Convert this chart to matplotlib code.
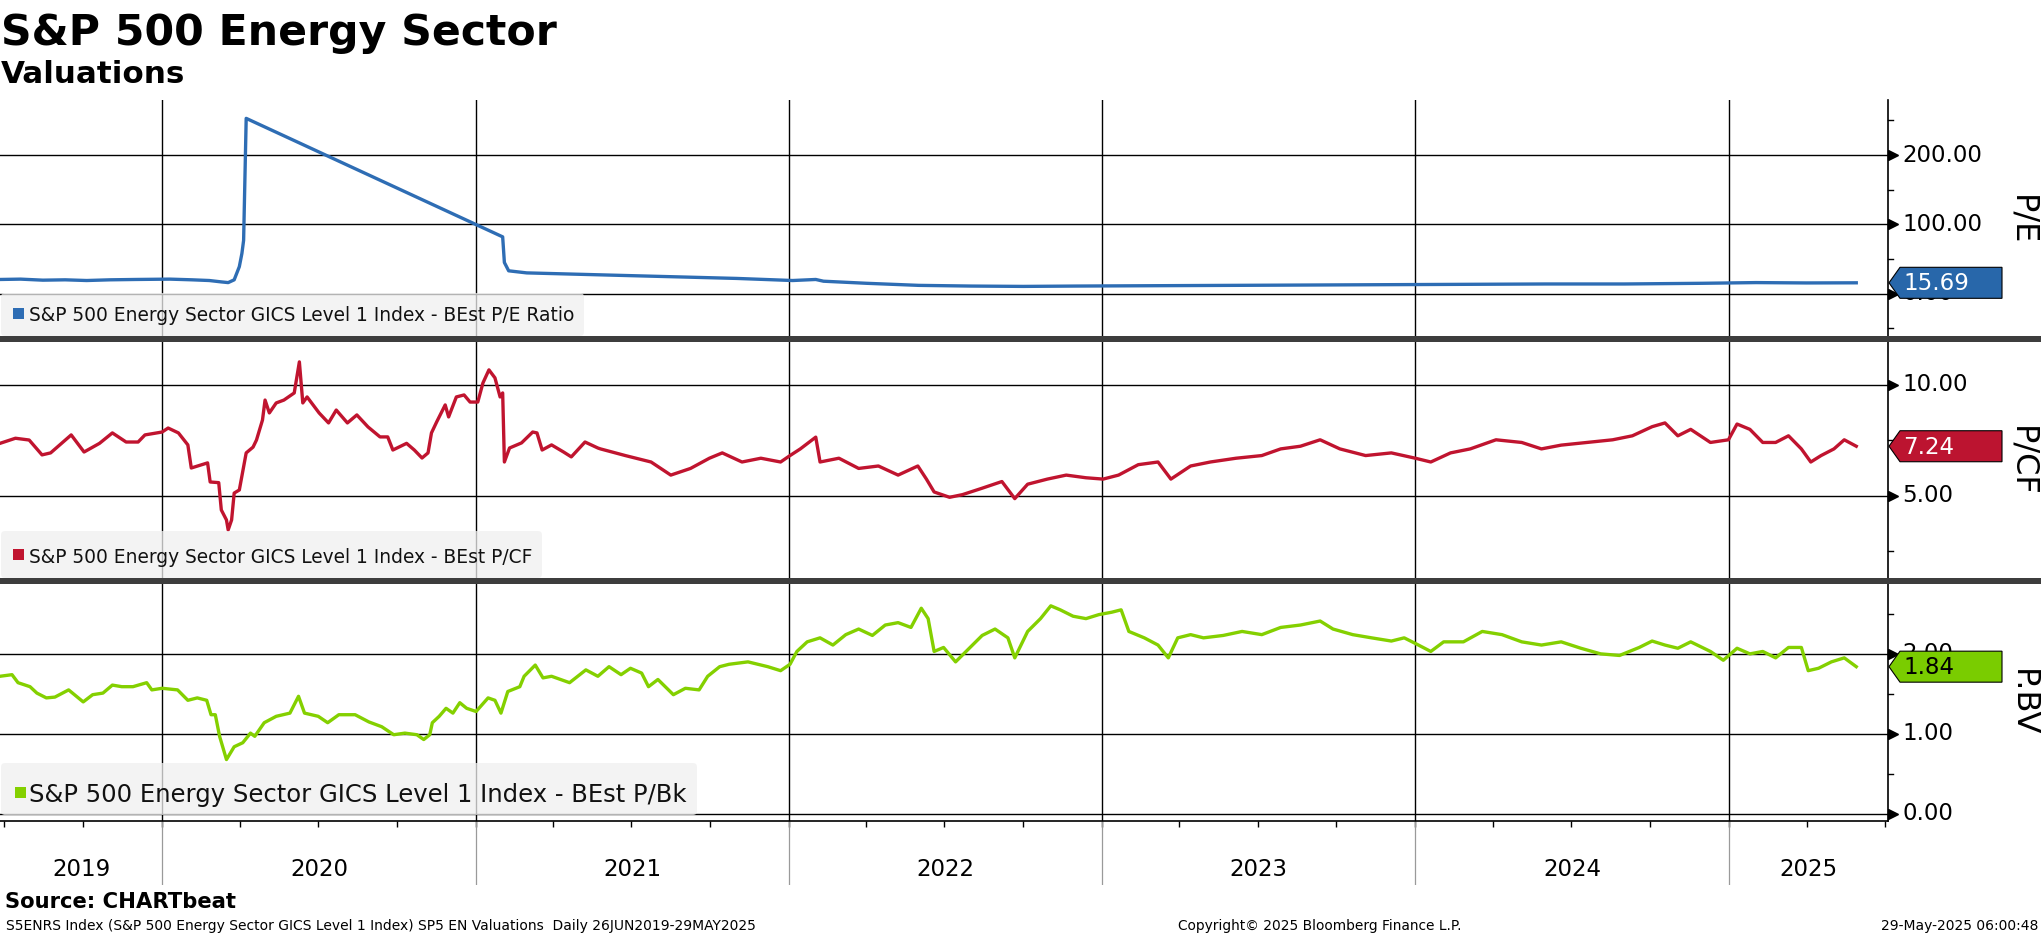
import matplotlib
matplotlib.use('Agg')
import matplotlib.pyplot as plt
import matplotlib.dates as mdates
import matplotlib.transforms as mtransforms
from matplotlib.patches import Polygon, Rectangle, FancyBboxPatch
from matplotlib.lines import Line2D
import pandas as pd

W, H = 2041, 936
plt.rcParams['font.family'] = ['DejaVu Sans']
NARROW = ['Liberation Sans Narrow', 'DejaVu Sans']

# ---- values ----
pe_dates = ['2019-06-26', '2019-07-20', '2019-08-15', '2019-09-10', '2019-10-05', '2019-11-01',
            '2019-12-01', '2020-01-10', '2020-02-05', '2020-02-25', '2020-03-10', '2020-03-18',
            '2020-03-25', '2020-03-31', '2020-04-03', '2020-04-05', '2020-04-08', '2021-02-01',
            '2021-02-03', '2021-02-08', '2021-03-01', '2021-05-01', '2021-07-01', '2021-09-01',
            '2021-11-01', '2022-01-05', '2022-02-01', '2022-02-10', '2022-04-01', '2022-06-01',
            '2022-08-01', '2022-10-01', '2022-12-01', '2023-03-01', '2023-06-01', '2023-09-01',
            '2023-12-01', '2024-03-01', '2024-06-01', '2024-09-01', '2024-12-01', '2025-02-01',
            '2025-04-01', '2025-05-29']
pe_values = [20.5, 21, 19.5, 20, 19, 20, 20.5, 21, 20, 19, 17, 16,
             20, 39, 58, 77, 253, 82, 45, 33, 30, 28, 26, 24,
             22, 19, 20.5, 18, 15, 12, 11, 10.5, 11, 11.5, 12, 12.5,
             13, 13.5, 14, 14, 15, 16, 15.5, 15.69]

pcf_dates = ['2019-06-26', '2019-07-14', '2019-07-30', '2019-08-14', '2019-08-24', '2019-09-17',
             '2019-10-02', '2019-10-20', '2019-11-04', '2019-11-20', '2019-12-04', '2019-12-12',
             '2020-01-01', '2020-01-08', '2020-01-20', '2020-01-31', '2020-02-04', '2020-02-23',
             '2020-02-26', '2020-03-07', '2020-03-10', '2020-03-16', '2020-03-18', '2020-03-22',
             '2020-03-25', '2020-03-31', '2020-04-08', '2020-04-16', '2020-04-20', '2020-04-27',
             '2020-04-30', '2020-05-05', '2020-05-13', '2020-05-22', '2020-06-03', '2020-06-09',
             '2020-06-13', '2020-06-18', '2020-07-02', '2020-07-13', '2020-07-22', '2020-08-04',
             '2020-08-15', '2020-08-28', '2020-09-11', '2020-09-20', '2020-09-26', '2020-10-12',
             '2020-10-21', '2020-10-30', '2020-11-06', '2020-11-10', '2020-11-16', '2020-11-26',
             '2020-11-30', '2020-12-09', '2020-12-18', '2020-12-25', '2021-01-03', '2021-01-09',
             '2021-01-16', '2021-01-23', '2021-01-29', '2021-02-01', '2021-02-03', '2021-02-09',
             '2021-02-23', '2021-03-08', '2021-03-13', '2021-03-19', '2021-03-30', '2021-04-13',
             '2021-04-22', '2021-05-08', '2021-05-23', '2021-05-26', '2021-06-24', '2021-07-24',
             '2021-08-16', '2021-09-08', '2021-09-30', '2021-10-15', '2021-11-07', '2021-11-29',
             '2021-12-22', '2022-01-02', '2022-01-14', '2022-02-01', '2022-02-06', '2022-02-28',
             '2022-03-23', '2022-04-15', '2022-05-08', '2022-05-31', '2022-06-10', '2022-06-19',
             '2022-07-07', '2022-07-22', '2022-08-14', '2022-09-06', '2022-09-21', '2022-10-06',
             '2022-10-29', '2022-11-20', '2022-12-13', '2023-01-02', '2023-01-20', '2023-02-12',
             '2023-03-07', '2023-03-22', '2023-04-14', '2023-05-07', '2023-06-06', '2023-07-06',
             '2023-07-28', '2023-08-20', '2023-09-12', '2023-10-05', '2023-11-04', '2023-12-04',
             '2024-01-01', '2024-01-19', '2024-02-11', '2024-03-05', '2024-04-04', '2024-05-04',
             '2024-05-27', '2024-06-19', '2024-07-19', '2024-08-18', '2024-09-10', '2024-10-03',
             '2024-10-18', '2024-11-02', '2024-11-17', '2024-12-10', '2024-12-31', '2025-01-10',
             '2025-01-25', '2025-02-09', '2025-02-24', '2025-03-11', '2025-03-26', '2025-04-06',
             '2025-04-18', '2025-05-03', '2025-05-15', '2025-05-29']
pcf_values = [7.37, 7.60, 7.52, 6.85, 6.94, 7.75,
              6.98, 7.37, 7.84, 7.43, 7.43, 7.75,
              7.88, 8.06, 7.84, 7.30, 6.26, 6.49,
              5.63, 5.60, 4.37, 3.92, 3.47, 3.92,
              5.13, 5.27, 6.94, 7.20, 7.52, 8.42,
              9.32, 8.74, 9.19, 9.32, 9.64, 11.04,
              9.19, 9.46, 8.74, 8.29, 8.87, 8.29,
              8.65, 8.11, 7.66, 7.66, 7.07, 7.37,
              7.07, 6.71, 6.94, 7.84, 8.33, 9.10,
              8.56, 9.46, 9.55, 9.23, 9.23, 10.09,
              10.68, 10.32, 9.46, 9.64, 6.53, 7.16,
              7.39, 7.88, 7.84, 7.07, 7.30, 6.98,
              6.76, 7.43, 7.16, 7.12, 6.82, 6.53,
              5.94, 6.24, 6.70, 6.94, 6.53, 6.70,
              6.53, 6.82, 7.12, 7.65, 6.53, 6.70,
              6.24, 6.35, 5.94, 6.35, 5.76, 5.18,
              4.94, 5.06, 5.35, 5.65, 4.88, 5.53,
              5.76, 5.94, 5.82, 5.76, 5.94, 6.41,
              6.53, 5.76, 6.35, 6.53, 6.70, 6.82,
              7.12, 7.24, 7.53, 7.12, 6.82, 6.94,
              6.70, 6.53, 6.94, 7.12, 7.53, 7.41,
              7.12, 7.29, 7.41, 7.53, 7.71, 8.12,
              8.29, 7.71, 8.00, 7.41, 7.53, 8.24,
              8.00, 7.41, 7.41, 7.71, 7.12, 6.53,
              6.82, 7.12, 7.53, 7.24]

pbv_dates = ['2019-06-26', '2019-07-10', '2019-07-17', '2019-07-31', '2019-08-08', '2019-08-19',
             '2019-08-29', '2019-09-14', '2019-10-01', '2019-10-12', '2019-10-24', '2019-11-04',
             '2019-11-15', '2019-11-28', '2019-12-14', '2019-12-20', '2020-01-01', '2020-01-19',
             '2020-01-31', '2020-02-11', '2020-02-22', '2020-02-27', '2020-03-03', '2020-03-08',
             '2020-03-16', '2020-03-25', '2020-04-04', '2020-04-13', '2020-04-18', '2020-04-29',
             '2020-05-13', '2020-05-29', '2020-06-08', '2020-06-15', '2020-07-01', '2020-07-12',
             '2020-07-25', '2020-08-13', '2020-08-29', '2020-09-13', '2020-09-27', '2020-10-10',
             '2020-10-24', '2020-11-01', '2020-11-08', '2020-11-11', '2020-11-19', '2020-11-27',
             '2020-12-05', '2020-12-13', '2020-12-21', '2021-01-01', '2021-01-15', '2021-01-23',
             '2021-01-30', '2021-02-07', '2021-02-21', '2021-02-26', '2021-03-11', '2021-03-20',
             '2021-03-30', '2021-04-20', '2021-05-09', '2021-05-23', '2021-06-05', '2021-06-19',
             '2021-06-30', '2021-07-13', '2021-07-21', '2021-08-01', '2021-08-19', '2021-09-02',
             '2021-09-18', '2021-09-28', '2021-10-12', '2021-10-23', '2021-11-14', '2021-12-07',
             '2021-12-22', '2022-01-02', '2022-01-10', '2022-01-22', '2022-02-06', '2022-02-21',
             '2022-03-08', '2022-03-23', '2022-04-08', '2022-04-23', '2022-05-08', '2022-05-23',
             '2022-06-04', '2022-06-12', '2022-06-19', '2022-06-30', '2022-07-14', '2022-07-30',
             '2022-08-14', '2022-08-29', '2022-09-13', '2022-09-21', '2022-10-06', '2022-10-21',
             '2022-11-02', '2022-11-13', '2022-11-28', '2022-12-13', '2022-12-28', '2023-01-12',
             '2023-01-23', '2023-02-01', '2023-02-19', '2023-03-07', '2023-03-19', '2023-03-30',
             '2023-04-14', '2023-04-29', '2023-05-22', '2023-06-13', '2023-07-06', '2023-07-28',
             '2023-08-20', '2023-09-12', '2023-09-27', '2023-10-20', '2023-11-11', '2023-12-04',
             '2023-12-19', '2024-01-01', '2024-01-19', '2024-02-03', '2024-02-26', '2024-03-19',
             '2024-04-11', '2024-05-04', '2024-05-27', '2024-06-19', '2024-07-12', '2024-08-04',
             '2024-08-26', '2024-09-18', '2024-10-03', '2024-10-18', '2024-11-02', '2024-11-17',
             '2024-12-10', '2024-12-25', '2025-01-10', '2025-01-25', '2025-02-09', '2025-02-24',
             '2025-03-11', '2025-03-26', '2025-04-03', '2025-04-15', '2025-04-30', '2025-05-15',
             '2025-05-29']
pbv_values = [1.72, 1.74, 1.64, 1.59, 1.51, 1.45,
              1.46, 1.55, 1.40, 1.49, 1.51, 1.61,
              1.59, 1.59, 1.64, 1.55, 1.57, 1.55,
              1.42, 1.45, 1.42, 1.24, 1.24, 0.97,
              0.68, 0.84, 0.89, 1.01, 0.97, 1.14,
              1.22, 1.26, 1.47, 1.26, 1.22, 1.14,
              1.24, 1.24, 1.15, 1.09, 0.99, 1.01,
              0.99, 0.93, 0.99, 1.14, 1.22, 1.32,
              1.26, 1.39, 1.32, 1.28, 1.45, 1.42,
              1.26, 1.53, 1.59, 1.72, 1.86, 1.70,
              1.72, 1.64, 1.80, 1.72, 1.84, 1.74,
              1.82, 1.76, 1.59, 1.68, 1.49, 1.57,
              1.55, 1.72, 1.84, 1.87, 1.90, 1.84,
              1.79, 1.87, 2.03, 2.15, 2.20, 2.11,
              2.24, 2.31, 2.23, 2.36, 2.39, 2.33,
              2.57, 2.44, 2.03, 2.08, 1.90, 2.07,
              2.23, 2.31, 2.20, 1.95, 2.28, 2.44,
              2.60, 2.55, 2.47, 2.44, 2.49, 2.52,
              2.55, 2.28, 2.20, 2.11, 1.95, 2.20,
              2.24, 2.20, 2.23, 2.28, 2.24, 2.33,
              2.36, 2.41, 2.31, 2.24, 2.20, 2.16,
              2.20, 2.13, 2.03, 2.15, 2.15, 2.28,
              2.24, 2.15, 2.11, 2.15, 2.07, 2.00,
              1.98, 2.08, 2.16, 2.11, 2.07, 2.15,
              2.03, 1.92, 2.07, 2.00, 2.03, 1.95,
              2.08, 2.08, 1.79, 1.82, 1.90, 1.95,
              1.84]

series_names = ['S&P 500 Energy Sector GICS Level 1 Index - BEst P/E Ratio',
                'S&P 500 Energy Sector GICS Level 1 Index - BEst P/CF',
                'S&P 500 Energy Sector GICS Level 1 Index - BEst P/Bk']
axis_names = ['P/E', 'P/CF', 'P.BV']
last_values = [15.69, 7.24, 1.84]
year_labels = [2019, 2020, 2021, 2022, 2023, 2024, 2025]

x_start = pd.Timestamp('2019-06-26')
x_end = pd.Timestamp('2025-07-05')

fig = plt.figure(figsize=(W / 100, H / 100), dpi=100)
ident = mtransforms.IdentityTransform()
renderer = fig.canvas.get_renderer()


def rect(x0, y0, x1, y1):
    # pixel box measured from the top-left corner -> figure fraction
    return [x0 / W, 1 - y1 / H, (x1 - x0) / W, (y1 - y0) / H]


def fit(t, width):
    w = t.get_window_extent(renderer).width
    t.set_fontsize(t.get_fontsize() * width / w)


RIGHT = 1888
panels = [
    dict(dates=pe_dates, values=pe_values, color='#2e6db4', tag='#2867aa', tagtext='white',
         top=100, bottom=339, ylim=(-65.4, 279.5), major=[0, 100, 200], minor=[-50, 50, 150, 250],
         legbox=(293, 336, 587), legbase=321, legw=547, sq=(13, 308), name_y=220),
    dict(dates=pcf_dates, values=pcf_values, color='#c0142f', tag='#bc1430', tagtext='white',
         top=339, bottom=581, ylim=(1.17, 12.07), major=[5, 10], minor=[2.5, 7.5],
         legbox=(531, 578, 545), legbase=563, legw=505, sq=(13, 549), name_y=461),
    dict(dates=pbv_dates, values=pbv_values, color='#84d000', tag='#7acc00', tagtext='black',
         top=581, bottom=821, ylim=(-0.0875, 2.91), major=[0, 1, 2], minor=[0.5, 1.5, 2.5],
         legbox=(763, 815, 700), legbase=802, legw=656, sq=(15, 787), name_y=703),
]
year_starts = [pd.Timestamp(f'{y}-01-01') for y in year_labels[1:]]

axes = []
for i, p in enumerate(panels):
    ax = fig.add_axes(rect(0, p['top'], RIGHT, p['bottom']))
    ax.set_xlim(x_start, x_end)
    ax.set_ylim(*p['ylim'])
    for s in ax.spines.values():
        s.set_visible(False)
    ax.set_yticks([])
    for v in p['major']:
        ax.axhline(v, color='black', lw=1.0, zorder=1)
    for d in year_starts:
        ax.axvline(d, color='black', lw=1.0, zorder=1)
    ax.plot(pd.to_datetime(p['dates']), p['values'], color=p['color'], lw=2.4, zorder=3)

    if i < 2:
        ax.set_xticks([])
    else:
        ax.xaxis.set_major_locator(mdates.MonthLocator(bymonth=[1, 4, 7, 10]))
        ax.tick_params(axis='x', direction='out', length=4, width=1, color='black', labelbottom=False)

    # legend box
    y0, y1, x1 = p['legbox']
    fig.add_artist(FancyBboxPatch((1, H - y1), x1 - 4, y1 - y0, boxstyle='round,pad=0,rounding_size=4',
                                  transform=ident, facecolor='#f0f0f0', edgecolor='none', alpha=0.75, zorder=4))
    sx, sy = p['sq']
    fig.add_artist(Rectangle((sx, H - sy - 11), 11, 11, transform=ident, facecolor=p['color'],
                             edgecolor='none', zorder=5))
    t = fig.text(29, H - p['legbase'], series_names[i], transform=ident, fontsize=15, family=NARROW,
                 va='baseline', ha='left', color='#111111', zorder=5)
    fit(t, p['legw'])

    # right axis ticks, labels and last-value tag
    yaxt = ax.get_yaxis_transform()
    for v in p['major']:
        yd = yaxt.transform((1, v))[1]
        fig.add_artist(Line2D([RIGHT + 4.5], [yd], marker='>', markersize=7, color='black',
                              linestyle='none', transform=ident, zorder=6))
        fig.text(1902, yd, f'{v:.2f}', transform=ident, fontsize=16.5, va='center', ha='left', zorder=6)
    for v in p['minor']:
        yd = yaxt.transform((1, v))[1]
        fig.add_artist(Line2D([RIGHT, RIGHT + 5], [yd, yd], color='black', lw=1, transform=ident, zorder=6))

    yd = yaxt.transform((1, last_values[i]))[1]
    verts = [(RIGHT + 1, yd), (1900, yd + 15.5), (2002, yd + 15.5), (2002, yd - 15.5), (1900, yd - 15.5)]
    fig.add_artist(Polygon(verts, closed=True, transform=ident, facecolor=p['tag'],
                           edgecolor='black', lw=0.8, zorder=7))
    fig.text(1903, yd - 1, f'{last_values[i]:.2f}', transform=ident, fontsize=16.5, va='center',
             ha='left', color=p['tagtext'], zorder=8)
    fig.text(2022, H - p['name_y'], axis_names[i], transform=ident, fontsize=23, rotation=270,
             va='center', ha='center', zorder=6)
    axes.append(ax)

# right spine, bottom line and panel separators
fig.add_artist(Line2D([RIGHT, RIGHT], [H - 100, H - 821], color='black', lw=1.2, transform=ident, zorder=6))
fig.add_artist(Line2D([0, RIGHT], [H - 821, H - 821], color='black', lw=1.2, transform=ident, zorder=6))
for ysep in (339, 581):
    fig.add_artist(Rectangle((0, H - ysep - 3), W, 6, transform=ident, facecolor='#3d3d3d',
                             edgecolor='none', zorder=9))

# year label strip
axy = fig.add_axes(rect(0, 821, RIGHT, 885))
axy.set_xlim(x_start, x_end)
axy.set_ylim(0, 1)
axy.axis('off')
for d in year_starts:
    axy.axvline(d, color='#9a9a9a', lw=0.9)
for y in year_labels:
    a = max(pd.Timestamp(f'{y}-01-01'), x_start)
    b = min(pd.Timestamp(f'{y + 1}-01-01'), x_end)
    axy.text(a + (b - a) / 2, 0.25, str(y), fontsize=16.5, ha='center', va='center')

# titles and footer
t = fig.text(1, H - 45, 'S&P 500 Energy Sector', transform=ident, fontsize=29, fontweight='bold', va='baseline')
fit(t, 556)
t = fig.text(1, H - 83, 'Valuations', transform=ident, fontsize=21.5, fontweight='bold', va='baseline')
fit(t, 184)
t = fig.text(5, H - 908, 'Source: CHARTbeat', transform=ident, fontsize=14.5, fontweight='bold', va='baseline')
fit(t, 232)
t = fig.text(6, H - 930, 'S5ENRS Index (S&P 500 Energy Sector GICS Level 1 Index) SP5 EN Valuations  Daily 26JUN2019-29MAY2025',
             transform=ident, fontsize=11, family=NARROW, va='baseline')
fit(t, 755)
t = fig.text(1178, H - 930, 'Copyright\u00a9 2025 Bloomberg Finance L.P.', transform=ident, fontsize=11,
             family=NARROW, va='baseline')
fit(t, 285)
t = fig.text(2038, H - 930, '29-May-2025 06:00:48', transform=ident, fontsize=11, family=NARROW,
             va='baseline', ha='right')
fit(t, 158)

fig.savefig('out.png', dpi=100)
